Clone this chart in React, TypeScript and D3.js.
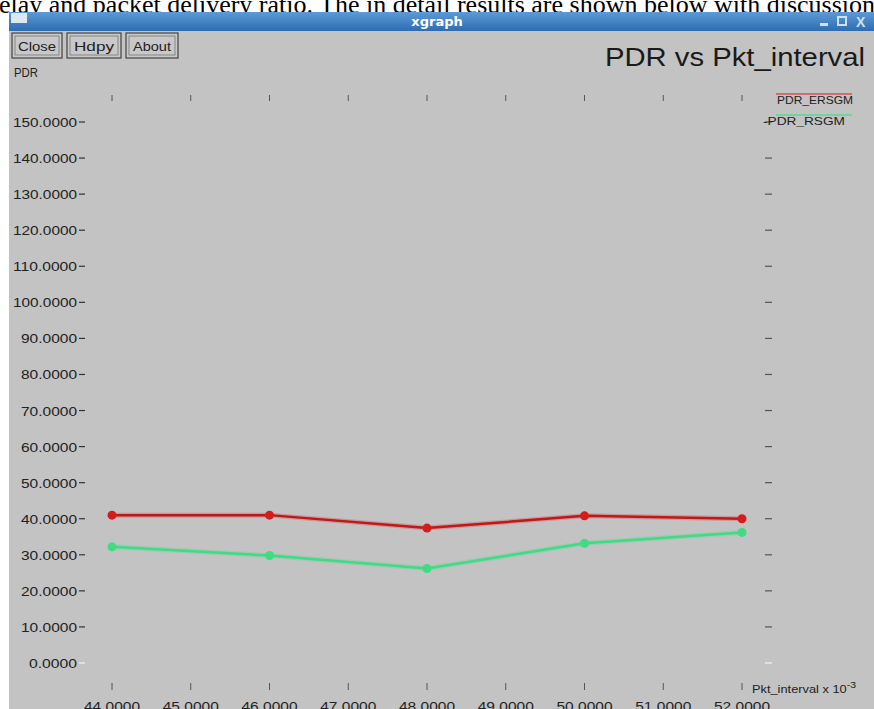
import React from "react";
import * as d3 from "d3";

const xTicks = [44, 45, 46, 47, 48, 49, 50, 51, 52];
const yTicks = [0, 10, 20, 30, 40, 50, 60, 70, 80, 90, 100, 110, 120, 130, 140, 150];
const pktInterval = [44, 46, 48, 50, 52];
const pdrErsgm = [41.0, 41.0, 37.4, 40.8, 40.0];
const pdrRsgm = [32.2, 29.8, 26.2, 33.2, 36.2];
const seriesNames = ["PDR_ERSGM", "PDR_RSGM"];
const seriesColors = ["#d41c1c", "#3fdc84"];

export default function App() {
  const W = 874, H = 709;
  const x = d3.scaleLinear().domain([44, 52]).range([112, 742]);
  const y = d3.scaleLinear().domain([0, 150]).range([663, 122]);
  const line = d3.line<[number, number]>().x(d => x(d[0])).y(d => y(d[1]));
  const series = [pdrErsgm, pdrRsgm].map(v => pktInterval.map((p, i) => [p, v[i]] as [number, number]));
  const sans = "'Liberation Sans', Arial, sans-serif";
  return (
    <svg width={W} height={H} style={{ position: "absolute", left: 0, top: 0, display: "block" }}>
      <defs>
        <linearGradient id="tb" x1="0" y1="0" x2="0" y2="1">
          <stop offset="0" stopColor="#5d9ad6" />
          <stop offset="1" stopColor="#2e6cb2" />
        </linearGradient>
      </defs>
      <rect x={0} y={0} width={W} height={H} fill="#ffffff" />
      <text x={-1} y={13} fontFamily="'Liberation Serif', 'Times New Roman', serif" fontSize={26} fill="#000">
        elay and packet delivery ratio. The in detail results are shown below with discussion
      </text>
      {/* window */}
      <rect x={9} y={30} width={W - 9} height={H - 30} fill="#c3c3c3" />
      <rect x={9} y={12} width={W - 9} height={19} fill="url(#tb)" />
      <rect x={11} y={13} width={16} height={10} fill="#dfe8f2" />
      <text x={437} y={26} textAnchor="middle" fontFamily="'DejaVu Sans', sans-serif" fontWeight="bold" fontSize={13} fill="#ffffff">xgraph</text>
      <rect x={820} y={23} width={8} height={3} fill="#cfe0f4" />
      <rect x={838} y={17} width={8} height={8} fill="none" stroke="#cfe0f4" strokeWidth={2} />
      <text x={856} y={27} fontFamily={sans} fontWeight="bold" fontSize={14} fill="#cfe0f4">X</text>
      {/* buttons */}
      {[["Close", 12, 50, 38], ["Hdpy", 67, 54, 40], ["About", 126, 52, 38]].map(([t, bx, bw, tl]) => (
        <g key={t as string}>
          <rect x={bx as number} y={33} width={bw as number} height={25} fill="#c8c8c8" stroke="#444" strokeWidth={1.2} />
          <rect x={(bx as number) + 3} y={36} width={(bw as number) - 6} height={19} fill="none" stroke="#777" strokeWidth={0.8} />
          <text x={(bx as number) + (bw as number) / 2} y={51} textAnchor="middle" fontFamily={sans} fontSize={12} fill="#222"
            textLength={tl as number} lengthAdjust="spacingAndGlyphs">{t}</text>
        </g>
      ))}
      <text x={14} y={77} fontFamily={sans} fontSize={12} fill="#222" textLength={24} lengthAdjust="spacingAndGlyphs">PDR</text>
      <text x={605} y={66} fontFamily={sans} fontSize={25} fill="#1a1a1a" textLength={260} lengthAdjust="spacingAndGlyphs">PDR vs Pkt_interval</text>
      {/* y axis labels and ticks */}
      {yTicks.map(t => {
        const s = t.toFixed(4);
        return (
          <g key={t}>
            <text x={77} y={y(t) + 5} textAnchor="end" fontFamily={sans} fontSize={12.5} fill="#222"
              textLength={s.length * 8} lengthAdjust="spacingAndGlyphs">{s}</text>
            <line x1={79} x2={85} y1={y(t)} y2={y(t)} stroke={t === 0 ? "#f4f4f4" : "#333"} strokeWidth={1.2} />
            <line x1={765} x2={772} y1={y(t)} y2={y(t)} stroke={t === 0 ? "#f4f4f4" : "#555"} strokeWidth={1.2} />
          </g>
        );
      })}
      {/* x ticks */}
      {xTicks.map(t => (
        <g key={t}>
          <line x1={x(t)} x2={x(t)} y1={95} y2={101} stroke="#555" strokeWidth={1} />
          <line x1={x(t)} x2={x(t)} y1={683} y2={690} stroke="#555" strokeWidth={1} />
          <text x={x(t)} y={711} textAnchor="middle" fontFamily={sans} fontSize={12.5} fill="#222"
            textLength={56} lengthAdjust="spacingAndGlyphs">{t.toFixed(4)}</text>
        </g>
      ))}
      <text x={752} y={693} fontFamily={sans} fontSize={11} fill="#222" textLength={104} lengthAdjust="spacingAndGlyphs">
        Pkt_interval x 10<tspan dy={-5} fontSize={9}>-3</tspan>
      </text>
      {/* legend */}
      <line x1={776} x2={852} y1={94} y2={94} stroke={seriesColors[0]} strokeOpacity={0.5} strokeWidth={2} />
      <text x={777} y={104} fontFamily={sans} fontSize={11.5} fill="#222" textLength={76} lengthAdjust="spacingAndGlyphs">{seriesNames[0]}</text>
      <line x1={776} x2={852} y1={115} y2={115} stroke={seriesColors[1]} strokeOpacity={0.6} strokeWidth={2} />
      <text x={763} y={125} fontFamily={sans} fontSize={11.5} fill="#222" textLength={82} lengthAdjust="spacingAndGlyphs">{"-" + seriesNames[1]}</text>
      {/* series */}
      {series.map((s, i) => (
        <g key={i}>
          <path d={line(s) || ""} fill="none" stroke={seriesColors[i]} strokeWidth={5} strokeOpacity={0.25} />
          <path d={line(s) || ""} fill="none" stroke={i === 0 ? "#c01818" : seriesColors[i]} strokeWidth={2.5} />
          {s.map((d, j) => (
            <circle key={j} cx={x(d[0])} cy={y(d[1])} r={4.5} fill={seriesColors[i]} />
          ))}
        </g>
      ))}
    </svg>
  );
}
